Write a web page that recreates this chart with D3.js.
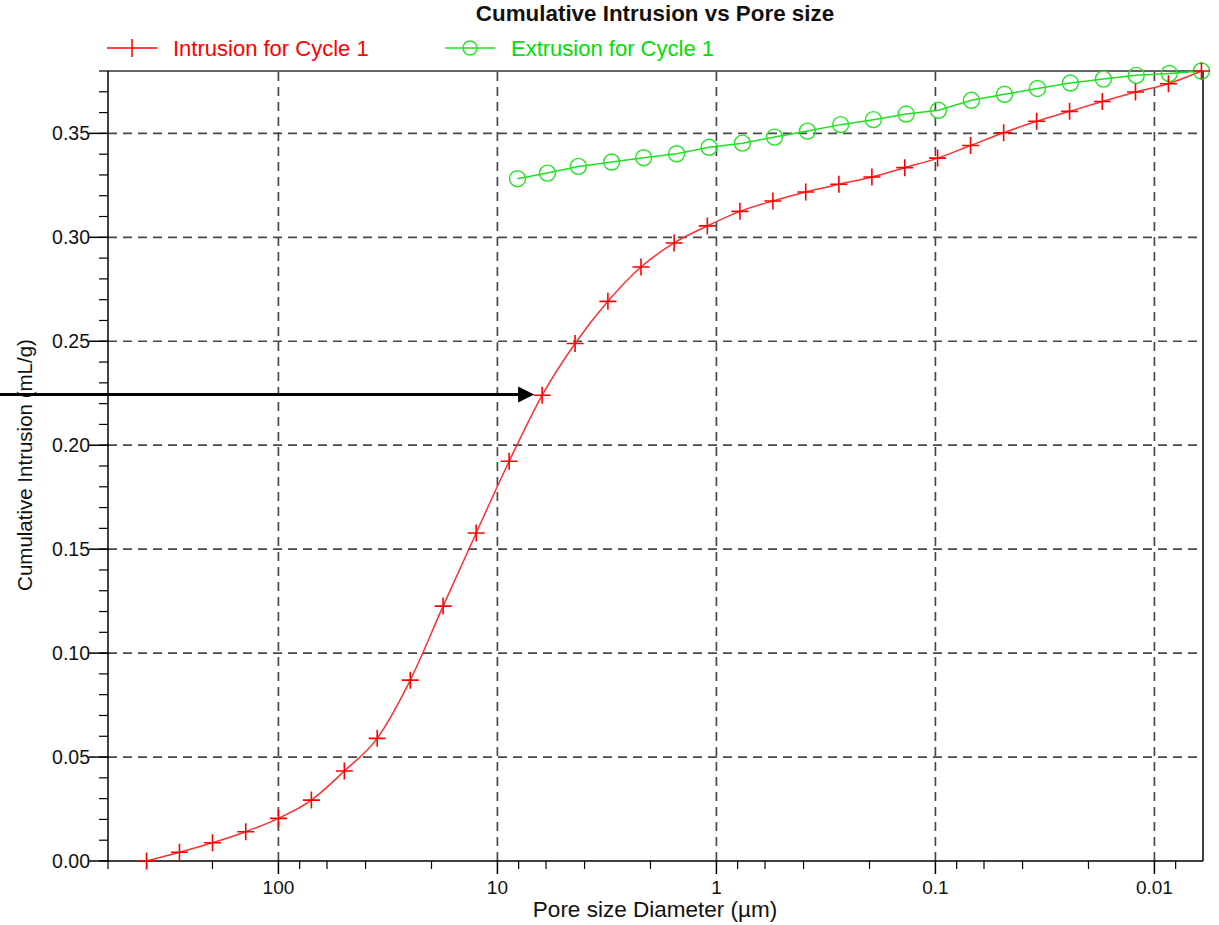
<!DOCTYPE html>
<html>
<head>
<meta charset="utf-8">
<script src="https://cdn.jsdelivr.net/npm/d3@7"></script>
<style>
  body { margin: 0; background: #fff; }
  svg { display: block; font-family: "Liberation Sans", Arial, sans-serif; }
</style>
</head>
<body>
<svg id="chart" width="1219" height="925"></svg>
<script>
// pore diameters (µm) and cumulative intrusion (mL/g)
const intrusionDiam = [400, 283, 200, 141, 100, 70.7, 50, 35.4, 25, 17.7, 12.5, 8.84, 6.25, 4.42, 3.13,
  2.21, 1.56, 1.10, 0.781, 0.552, 0.391, 0.276, 0.195, 0.138, 0.0977, 0.0691, 0.0488, 0.0345,
  0.0244, 0.0173, 0.0122, 0.00863, 0.0061];
const intrusionVals = [0.000, 0.0042, 0.0088, 0.0141, 0.0205, 0.0293, 0.0433, 0.0590, 0.0870, 0.1226,
  0.1578, 0.1923, 0.2240, 0.2489, 0.2692, 0.2857, 0.2973, 0.3055, 0.3125, 0.3175, 0.3218, 0.3255,
  0.3290, 0.3335, 0.3381, 0.3442, 0.3503, 0.3558, 0.3606, 0.3653, 0.3699, 0.3739, 0.3800];

const extrusionDiam = [8.10, 5.91, 4.27, 3.01, 2.15, 1.52, 1.08, 0.761, 0.543, 0.384, 0.271, 0.192,
  0.136, 0.0969, 0.0685, 0.0484, 0.0342, 0.0242, 0.0171, 0.0121, 0.00855, 0.0061];
const extrusionVals = [0.3282, 0.3309, 0.3341, 0.3362, 0.3383, 0.3402, 0.3433, 0.3453, 0.3482, 0.3511,
  0.3542, 0.3566, 0.3593, 0.3611, 0.3659, 0.3688, 0.3716, 0.3742, 0.3761, 0.3779, 0.3788, 0.3800];

const xMajorTicks = [100, 10, 1, 0.1, 0.01];
const xTickLabels = ["100", "10", "1", "0.1", "0.01"];
const xMinorTicks = [600, 400, 200, 80, 60, 40, 20, 8, 6, 4, 2, 0.8, 0.6, 0.4, 0.2,
  0.08, 0.06, 0.04, 0.02, 0.008];
const yMajorTicks = [0, 0.05, 0.10, 0.15, 0.20, 0.25, 0.30, 0.35];
const yMinorTicks = d3.range(0, 0.381, 0.01);

// arrow annotation (value, tip diameter)
const arrowValue = 0.2244;
const arrowTipDiam = 6.8;

const svg = d3.select("#chart");
const margin = { top: 71, right: 16, bottom: 64, left: 108 };
const W = 1219, H = 925;
const x = d3.scaleLog().domain([600, 0.006]).range([margin.left, W - margin.right]);
const y = d3.scaleLinear().domain([0, 0.38]).range([H - margin.bottom, margin.top]);

const intrusion = intrusionDiam.map((d, i) => ({ d, v: intrusionVals[i] }));
const extrusion = extrusionDiam.map((d, i) => ({ d, v: extrusionVals[i] }));

// grid
const grid = svg.append("g")
  .attr("stroke", "#484848").attr("stroke-width", 1.7).attr("stroke-dasharray", "9,6");
grid.selectAll(".gx").data(xMajorTicks).enter().append("line")
  .attr("x1", d => x(d)).attr("x2", d => x(d))
  .attr("y1", y(0)).attr("y2", y(0.38));
grid.selectAll(".gy").data(yMajorTicks.slice(1)).enter().append("line")
  .attr("x1", x.range()[0]).attr("x2", x.range()[1])
  .attr("y1", d => y(d)).attr("y2", d => y(d));

// frame
svg.append("line").attr("x1", x.range()[0]).attr("x2", x.range()[1])
  .attr("y1", y(0.38)).attr("y2", y(0.38)).attr("stroke", "#666").attr("stroke-width", 2);
svg.append("line").attr("x1", x.range()[1]).attr("x2", x.range()[1])
  .attr("y1", y(0.38)).attr("y2", y(0)).attr("stroke", "#000").attr("stroke-width", 1.5);

// x axis
const xAxis = svg.append("g").attr("transform", `translate(0,${y(0)})`);
xAxis.append("line").attr("x1", x.range()[0]).attr("x2", x.range()[1])
  .attr("stroke", "#000").attr("stroke-width", 1.5);
xAxis.selectAll(".xmin").data(xMinorTicks).enter().append("line")
  .attr("x1", d => x(d)).attr("x2", d => x(d)).attr("y1", 0).attr("y2", 8)
  .attr("stroke", "#000").attr("stroke-width", 1.2);
xAxis.selectAll(".xmaj").data(xMajorTicks).enter().append("line")
  .attr("x1", d => x(d)).attr("x2", d => x(d)).attr("y1", 0).attr("y2", 13)
  .attr("stroke", "#000").attr("stroke-width", 1.5);
xAxis.selectAll(".xlab").data(xMajorTicks).enter().append("text")
  .attr("x", d => x(d)).attr("y", 33)
  .attr("text-anchor", "middle").attr("font-size", 19).attr("fill", "#111")
  .text((d, i) => xTickLabels[i]);

// y axis
const yAxis = svg.append("g").attr("transform", `translate(${x.range()[0]},0)`);
yAxis.append("line").attr("y1", y(0)).attr("y2", y(0.38))
  .attr("stroke", "#000").attr("stroke-width", 1.5);
yAxis.selectAll(".ymin").data(yMinorTicks).enter().append("line")
  .attr("x1", -9).attr("x2", 0).attr("y1", d => y(d)).attr("y2", d => y(d))
  .attr("stroke", "#000").attr("stroke-width", 1.2);
yAxis.selectAll(".ymaj").data(yMajorTicks).enter().append("line")
  .attr("x1", -19).attr("x2", 0).attr("y1", d => y(d)).attr("y2", d => y(d))
  .attr("stroke", "#000").attr("stroke-width", 1.5);
yAxis.selectAll(".ylab").data(yMajorTicks).enter().append("text")
  .attr("x", -18).attr("y", d => y(d) + 7)
  .attr("text-anchor", "end").attr("font-size", 19.5).attr("fill", "#111")
  .text(d => d3.format(".2f")(d));

// axis titles
svg.append("text").attr("x", 655).attr("y", 917).attr("text-anchor", "middle")
  .attr("font-size", 22.5).attr("fill", "#111").text("Pore size Diameter (µm)");
svg.append("text").attr("transform", "translate(32,465) rotate(-90)")
  .attr("text-anchor", "middle").attr("font-size", 20.5).attr("fill", "#111")
  .text("Cumulative Intrusion (mL/g)");

// title
svg.append("text").attr("x", 655).attr("y", 21).attr("text-anchor", "middle")
  .attr("font-size", 22.4).attr("font-weight", "bold").attr("fill", "#111")
  .text("Cumulative Intrusion vs Pore size");

// series
const line = d3.line().x(p => x(p.d)).y(p => y(p.v));
svg.append("path").datum(extrusion)
  .attr("d", line.curve(d3.curveLinear))
  .attr("fill", "none").attr("stroke", "#1ee01e").attr("stroke-width", 1.5);
svg.append("path").datum(intrusion)
  .attr("d", line.curve(d3.curveMonotoneX))
  .attr("fill", "none").attr("stroke", "#ff3030").attr("stroke-width", 1.5);

svg.append("g").selectAll("circle").data(extrusion).enter().append("circle")
  .attr("cx", p => x(p.d)).attr("cy", p => y(p.v)).attr("r", 8)
  .attr("fill", "none").attr("stroke", "#22e622").attr("stroke-width", 1.4);

const crossPath = "M-8.5,0H8.5M0,-8.5V8.5";
svg.append("g").selectAll("path").data(intrusion).enter().append("path")
  .attr("transform", p => `translate(${x(p.d)},${y(p.v)})`)
  .attr("d", crossPath).attr("stroke", "#ff0000").attr("stroke-width", 1.6);

// legend
const leg = svg.append("g");
leg.append("line").attr("x1", 107).attr("x2", 157).attr("y1", 48).attr("y2", 48)
  .attr("stroke", "#ff0000").attr("stroke-width", 1.5);
leg.append("line").attr("x1", 132).attr("x2", 132).attr("y1", 39).attr("y2", 57)
  .attr("stroke", "#ff0000").attr("stroke-width", 1.5);
leg.append("text").attr("x", 173).attr("y", 56).attr("font-size", 22)
  .attr("fill", "#ff0000").text("Intrusion for Cycle 1");
leg.append("line").attr("x1", 445).attr("x2", 495).attr("y1", 48).attr("y2", 48)
  .attr("stroke", "#1ee01e").attr("stroke-width", 1.5);
leg.append("circle").attr("cx", 470).attr("cy", 48).attr("r", 7)
  .attr("fill", "none").attr("stroke", "#22e622").attr("stroke-width", 1.4);
leg.append("text").attr("x", 511).attr("y", 56).attr("font-size", 22)
  .attr("fill", "#00e000").text("Extrusion for Cycle 1");

// arrow annotation
const ay = y(arrowValue), tip = x(arrowTipDiam);
svg.append("line").attr("x1", 0).attr("x2", tip - 14).attr("y1", ay).attr("y2", ay)
  .attr("stroke", "#000").attr("stroke-width", 3);
svg.append("path")
  .attr("d", `M${tip},${ay}L${tip - 16},${ay - 8}L${tip - 16},${ay + 8}Z`)
  .attr("fill", "#000");
</script>
</body>
</html>
